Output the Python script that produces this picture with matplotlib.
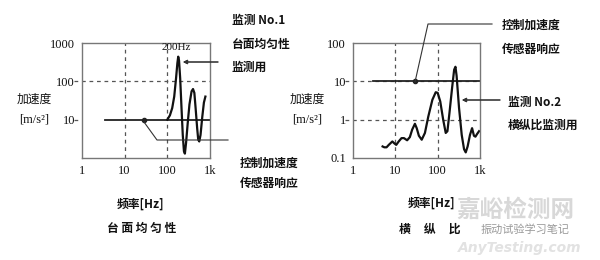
# 台面均匀性 / 横纵比 监测示意图
import numpy as np
import matplotlib.pyplot as plt
from matplotlib.lines import Line2D

plt.rcParams['font.family'] = ['Noto Sans CJK SC', 'DejaVu Sans']

# 左图：台面均匀性（监测 No.1）
freq_l = [100, 115, 130, 145, 160, 172, 180, 188, 200, 215, 230, 245, 258, 275,
          300, 330, 370, 400, 430, 460, 500, 530, 560, 600, 660, 720, 780]
resp_l = [10, 13, 20, 40, 120, 300, 440, 350, 120, 20, 4, 1.5, 1.3, 2.5,
          8, 25, 55, 63, 50, 20, 6, 3, 2.7, 4, 12, 28, 40]
ctrl_l = ([3.5, 1000], [10, 10])
dot_l = (28, 10)

# 右图：横纵比（监测 No.2）
freq_r = [5, 5.5, 6.2, 7, 8.5, 9.5, 10.5, 12, 14, 16, 19, 22, 25, 29, 32, 36, 42,
          50, 60, 75, 90, 100, 115, 135, 155, 170, 190, 220, 245, 263, 280, 320,
          370, 420, 460, 510, 580, 650, 720, 780, 850, 950]
resp_r = [0.2, 0.19, 0.19, 0.22, 0.27, 0.24, 0.22, 0.27, 0.33, 0.33, 0.29, 0.35,
          0.55, 0.78, 0.6, 0.38, 0.3, 0.45, 1.2, 3.3, 5.2, 5.0, 3.0, 1.0, 0.45,
          0.5, 1.5, 7, 20, 24, 14, 2, 0.4, 0.17, 0.14, 0.2, 0.4, 0.6, 0.38, 0.36,
          0.42, 0.5]
ctrl_r = ([3, 1000], [10, 10])
dot_r = (29, 10)

xticks = [1, 10, 100, 1000]
xlabels = ['1', '10', '100', '1k']
yticks_l = [10, 100, 1000]
ylabels_l = ['10', '100', '1000']
yticks_r = [0.1, 1, 10, 100]
ylabels_r = ['0.1', '1', '10', '100']

W, H = 600, 260
fig = plt.figure(figsize=(6, 2.6), dpi=100)


def fx(x):
    return x / W


def fy(y):
    return 1 - y / H


def ftext(x, y, s, **kw):
    kw.setdefault('fontsize', 8.5)
    kw.setdefault('va', 'center')
    kw.setdefault('ha', 'left')
    kw.setdefault('color', '#111111')
    kw.setdefault('weight', 'bold')
    fig.text(fx(x), fy(y), s, **kw)


def fline(xs, ys, **kw):
    fig.add_artist(Line2D([fx(v) for v in xs], [fy(v) for v in ys],
                          color='#333333', lw=0.8, **kw))


def farrow(x0, y0, x1, y1):
    fig.add_artist(plt.annotate('', xy=(fx(x1), fy(y1)), xytext=(fx(x0), fy(y0)),
                                xycoords='figure fraction', textcoords='figure fraction',
                                arrowprops=dict(arrowstyle='-|>', color='#333333', lw=0.8,
                                                mutation_scale=6, shrinkA=0, shrinkB=0)))


def setup(ax, yticks, ylabels, ylim):
    ax.set_xscale('log')
    ax.set_yscale('log')
    ax.set_xlim(1, 1000)
    ax.set_ylim(*ylim)
    ax.set_xticks(xticks)
    ax.set_xticklabels(xlabels, family='Liberation Serif', fontsize=9)
    ax.set_yticks(yticks)
    ax.set_yticklabels(ylabels, family='Liberation Serif', fontsize=9)
    ax.minorticks_off()
    ax.tick_params(length=0, pad=5, colors='#111111')
    for s in ax.spines.values():
        s.set_color('#777777')
        s.set_linewidth(1.0)
    for v in xticks[1:-1]:
        ax.axvline(v, color='#555555', lw=0.9, ls=(0, (3, 3)))
    for v in yticks[1:-1]:
        ax.axhline(v, xmin=-0.06, xmax=1, color='#555555', lw=0.9, ls=(0, (3, 3)),
                   clip_on=False)


# 左图
ax1 = fig.add_axes([fx(82), fy(158), fx(128), 115 / H])
setup(ax1, yticks_l, ylabels_l, (1, 1000))
ax1.axhline(10, xmin=-0.06, xmax=0, color='#555555', lw=0.9, ls=(0, (3, 3)), clip_on=False)
ax1.plot(*ctrl_l, color='#222222', lw=1.3)
ax1.plot(freq_l, resp_l, color='#111111', lw=1.6)
ax1.plot(*dot_l, 'o', color='#222222', ms=3)

# 右图
ax2 = fig.add_axes([fx(353), fy(158), fx(127), 115 / H])
setup(ax2, yticks_r, ylabels_r, (0.1, 100))
ax2.plot(*ctrl_r, color='#222222', lw=1.3)
ax2.plot(freq_r, resp_r, color='#111111', lw=1.6)
ax2.plot(*dot_r, 'o', color='#222222', ms=3)

# 引出线
fline([144, 157, 228], [122, 140, 140])
farrow(218, 62, 183, 62)
fline([415, 428, 492], [82, 24, 24])
farrow(500, 100, 462, 100)

# 文字
ftext(176, 48, '200Hz', ha='center', family='Liberation Serif', fontsize=8, weight='normal')
ftext(232, 20, '监测 No.1')
ftext(232, 44, '台面均匀性')
ftext(232, 67, '监测用')
ftext(240, 163, '控制加速度')
ftext(240, 183, '传感器响应')
ftext(34, 99, '加速度', weight='normal', ha='center')
ftext(34, 120, '[m/s²]', ha='center', family=['Liberation Serif', 'DejaVu Sans'],
      fontsize=9, weight='normal')
ftext(141, 204, '频率[Hz]', ha='center')
ftext(142, 228, '台 面 均 匀 性', ha='center')

ftext(502, 25, '控制加速度')
ftext(502, 49, '传感器响应')
ftext(508, 102, '监测 No.2')
ftext(508, 125, '横纵比监测用')
ftext(307, 99, '加速度', weight='normal', ha='center')
ftext(307, 120, '[m/s²]', ha='center', family=['Liberation Serif', 'DejaVu Sans'],
      fontsize=9, weight='normal')
ftext(432, 203, '频率[Hz]', ha='center')
ftext(430, 229, '横     纵     比', ha='center')

# 水印
ftext(515, 210, '嘉峪检测网', ha='center', fontsize=17, color='#d8d8d8')
ftext(525, 229, '振动试验学习笔记', ha='center', fontsize=8, color='#9a9a9a', weight='normal')
ftext(520, 248, 'AnyTesting.com', ha='center', fontsize=10, color='#e2e2e2',
      style='italic', family='DejaVu Sans')

fig.savefig('out.png', dpi=100)
